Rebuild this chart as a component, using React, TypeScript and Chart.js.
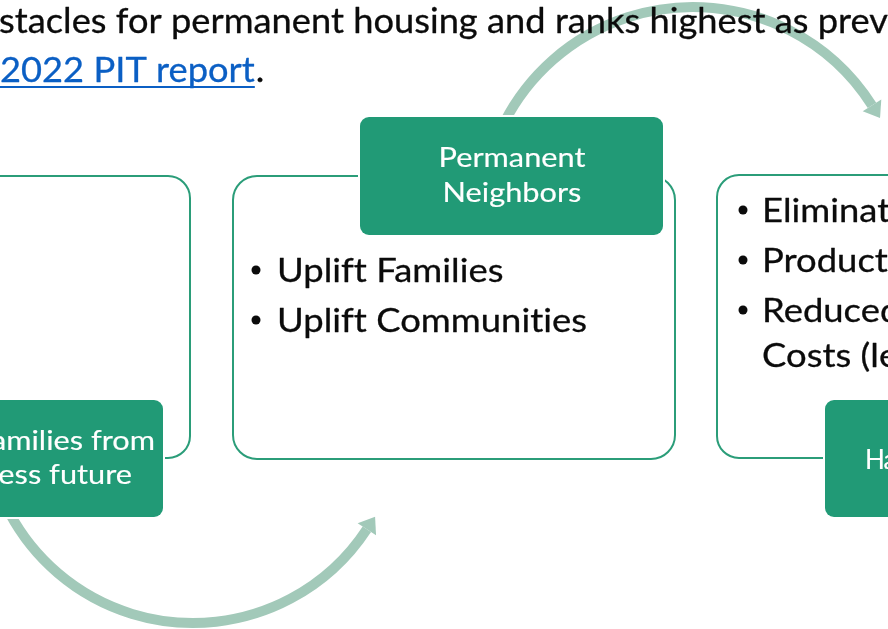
import React, { useEffect, useRef } from "react";
import { Chart, registerables } from "chart.js";

Chart.register(...registerables);

// ---------- content ----------
const paragraphLine = "stacles for permanent housing and ranks highest as prev";
const linkText = "2022 PIT report";
const linkTail = ".";

const leftTitle = ["amilies from", "ess future"];
const middleTitle = ["Permanent", "Neighbors"];
const rightTitle = ["Ha"];

const middleBullets = ["Uplift Families", "Uplift Communities"];
const rightBullets = [["Eliminat"], ["Product"], ["Reduced", "Costs (le"]];

// ---------- layout (value space of the hidden scales) ----------
const W = 888;
const H = 629;
const FONT = "Lato, 'Open Sans', sans-serif";
const GREEN = "#219a76";
const OUTLINE = "#2b9d79";
const ARC = "#a2c9b9";
const INK = "#0b0b0b";
const LINK = "#0b5fc4";

const outlineBoxes = [
  { x0: -60, x1: 190, y0: 176, y1: 458, r: 22 },
  { x0: 233, x1: 675, y0: 176, y1: 459, r: 24 },
  { x0: 717, x1: 960, y0: 175, y1: 458, r: 22 },
];
const labelBoxes = [
  { x0: -60, x1: 163, y0: 400, y1: 517 },
  { x0: 360, x1: 663, y0: 117, y1: 235 },
  { x0: 825, x1: 1000, y0: 400, y1: 517 },
];

function App() {
  const ref = useRef<HTMLCanvasElement | null>(null);

  useEffect(() => {
    const canvas = ref.current;
    if (!canvas) return;

    const diagram = {
      id: "diagram",
      beforeDatasetsDraw(chart: any) {
        const ctx: CanvasRenderingContext2D = chart.ctx;
        const xs = chart.scales.x;
        const ys = chart.scales.y;
        const X = (v: number) => xs.getPixelForValue(v);
        const Y = (v: number) => ys.getPixelForValue(v);
        const pxPerUnit = Math.abs(X(1) - X(0));

        ctx.save();
        ctx.fillStyle = "#ffffff";
        ctx.fillRect(0, 0, chart.width, chart.height);

        // ---- arcs with arrowheads ----
        const drawArc = (cx: number, cy: number, r: number, a0: number, a1: number, ccw: boolean) => {
          const d2r = Math.PI / 180;
          ctx.strokeStyle = ARC;
          ctx.lineWidth = 10;
          ctx.lineCap = "butt";
          ctx.beginPath();
          ctx.arc(X(cx), Y(cy), r * pxPerUnit, a0 * d2r, a1 * d2r, ccw);
          ctx.stroke();
          const t = a1 * d2r;
          const ex = X(cx) + r * pxPerUnit * Math.cos(t);
          const ey = Y(cy) + r * pxPerUnit * Math.sin(t);
          let tx = -Math.sin(t), ty = Math.cos(t);
          if (ccw) { tx = -tx; ty = -ty; }
          const nx = -ty, ny = tx;
          const L = 15, hw = 11;
          ctx.fillStyle = ARC;
          ctx.beginPath();
          ctx.moveTo(ex + tx * L, ey + ty * L);
          ctx.lineTo(ex + nx * hw, ey + ny * hw);
          ctx.lineTo(ex - nx * hw, ey - ny * hw);
          ctx.closePath();
          ctx.fill();
        };
        drawArc(693, 219, 212, -153, -32.4, false);
        drawArc(193, 415, 208, 152, 33.3, true);

        // ---- outline boxes ----
        for (const b of outlineBoxes) {
          ctx.beginPath();
          ctx.roundRect(X(b.x0), Y(b.y0), X(b.x1) - X(b.x0), Y(b.y1) - Y(b.y0), b.r);
          ctx.fillStyle = "#ffffff";
          ctx.fill();
          ctx.strokeStyle = OUTLINE;
          ctx.lineWidth = 2;
          ctx.stroke();
        }
        // ---- green labels ----
        for (const b of labelBoxes) {
          ctx.beginPath();
          ctx.roundRect(X(b.x0), Y(b.y0), X(b.x1) - X(b.x0), Y(b.y1) - Y(b.y0), 9);
          ctx.strokeStyle = "#ffffff";
          ctx.lineWidth = 4;
          ctx.stroke();
          ctx.fillStyle = GREEN;
          ctx.fill();
        }
        ctx.restore();
      },
      afterDatasetsDraw(chart: any) {
        const ctx: CanvasRenderingContext2D = chart.ctx;
        const xs = chart.scales.x;
        const ys = chart.scales.y;
        const X = (v: number) => xs.getPixelForValue(v);
        const Y = (v: number) => ys.getPixelForValue(v);

        let strokeW = 0;
        const txt = (s: string, x: number, y: number, sx: number, align: CanvasTextAlign) => {
          ctx.save();
          ctx.translate(X(x), Y(y));
          ctx.scale(sx, 1);
          ctx.textAlign = align;
          ctx.textBaseline = "alphabetic";
          ctx.fillText(s, 0, 0);
          if (strokeW > 0) {
            ctx.strokeStyle = ctx.fillStyle as string;
            ctx.lineWidth = strokeW;
            ctx.lineJoin = "round";
            ctx.strokeText(s, 0, 0);
          }
          ctx.restore();
        };

        ctx.save();
        (ctx as any).letterSpacing = "0.01px"; // disables ligatures (fi, fl, ti)
        // ---- paragraph ----
        ctx.font = `34px ${FONT}`;
        const topSx = 889 / ctx.measureText(paragraphLine).width;
        strokeW = 0.3;
        ctx.fillStyle = INK;
        txt(paragraphLine, -1, 33, topSx, "left");
        ctx.fillStyle = LINK;
        txt(linkText, 0, 82, topSx, "left");
        const lw = ctx.measureText(linkText).width * topSx;
        ctx.fillRect(X(0), Y(86), lw, 2);
        ctx.fillStyle = INK;
        txt(linkTail, lw + 1, 82, topSx, "left");

        // ---- label text ----
        ctx.font = `27px ${FONT}`;
        const labSx = 147 / ctx.measureText("Permanent").width;
        strokeW = 0.15;
        ctx.fillStyle = "#ffffff";
        txt(leftTitle[0], 155, 450, labSx, "right");
        txt(leftTitle[1], 132, 484, labSx, "right");
        txt(middleTitle[0], 512, 167, labSx, "center");
        txt(middleTitle[1], 512, 202, labSx, "center");
        (ctx as any).letterSpacing = "-1px";
        txt(rightTitle[0], 865, 469, labSx * 0.85, "left");
        (ctx as any).letterSpacing = "0.01px";

        // ---- bullets ----
        ctx.font = `33px ${FONT}`;
        const bodySx = 310 / ctx.measureText("Uplift Communities").width;
        strokeW = 0.3;
        ctx.fillStyle = INK;
        const dot = (x: number, y: number) => {
          ctx.beginPath();
          ctx.arc(X(x), Y(y), 4.5, 0, Math.PI * 2);
          ctx.fill();
        };
        middleBullets.forEach((s, i) => {
          const base = 282 + i * 50;
          dot(256, base - 12);
          txt(s, 277, base, bodySx, "left");
        });
        let base = 222;
        rightBullets.forEach((lines) => {
          dot(743, base - 12);
          lines.forEach((s, j) => {
            txt(s, 762, base + j * 45, bodySx, "left");
          });
          base += 50;
        });
        ctx.restore();
      },
    };

    const chart = new Chart(canvas, {
      type: "scatter",
      data: { datasets: [{ data: [], pointRadius: 0 }] },
      options: {
        animation: false,
        responsive: false,
        devicePixelRatio: 1,
        layout: { padding: 0 },
        events: [],
        plugins: { legend: { display: false }, tooltip: { enabled: false } },
        scales: {
          x: { type: "linear", min: 0, max: W, display: false },
          y: { type: "linear", min: 0, max: H, reverse: true, display: false },
        },
      },
      plugins: [diagram],
    });
    return () => chart.destroy();
  }, []);

  return (
    <div style={{ width: W, height: H, overflow: "hidden" }}>
      <style>{"body{margin:0;}"}</style>
      <canvas ref={ref} width={W} height={H} style={{ display: "block" }} />
    </div>
  );
}

export default App;
